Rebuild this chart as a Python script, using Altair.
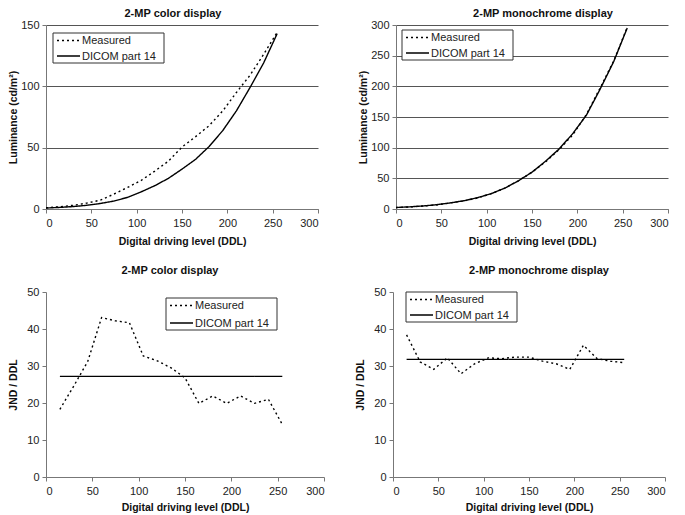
import altair as alt
import pandas as pd

# ---- data ----
ddl = [0, 15, 30, 45, 60, 75, 90, 105, 120, 135, 150, 165, 180, 195, 210, 225, 240, 255]
color_measured = [1.0, 1.8, 3.0, 4.8, 7.2, 12.2, 17.6, 23.3, 30.9, 39.0, 50.5, 59.0, 68.0, 80.0, 95.0, 109.0, 126.0, 144.0]
color_dicom = [0.8, 1.3, 2.0, 3.0, 4.5, 6.5, 9.5, 14.0, 19.0, 25.0, 32.5, 40.5, 51.0, 64.0, 80.0, 99.0, 119.0, 143.0]
mono_measured = [2.3, 3.3, 4.8, 6.8, 9.8, 13.2, 18.0, 25.0, 34.0, 46.0, 60.0, 77.0, 97.0, 121.0, 154.0, 197.0, 241.0, 296.0]
mono_dicom = [2.5, 3.5, 5.0, 7.0, 10.0, 13.5, 18.5, 25.0, 34.0, 46.0, 60.0, 78.0, 98.0, 123.0, 153.0, 195.0, 240.0, 295.0]

ddl_jnd = [15, 30, 45, 60, 75, 90, 105, 120, 135, 150, 165, 180, 195, 210, 225, 240, 255]
color_jnd_measured = [18.3, 24.6, 31.2, 43.1, 42.2, 41.7, 32.7, 31.4, 29.5, 26.8, 19.9, 21.9, 19.9, 21.9, 19.9, 21.0, 14.2]
color_jnd_dicom = [27.2] * len(ddl_jnd)
mono_jnd_measured = [38.4, 31.1, 29.1, 32.2, 27.9, 30.6, 32.2, 32.0, 32.4, 32.4, 31.3, 30.6, 29.1, 35.6, 32.0, 31.3, 30.9]
mono_jnd_dicom = [31.8] * len(ddl_jnd)

series_names = ["Measured", "DICOM part 14"]
series_dash = [[2, 3], [1, 0]]
x_ticks = [0, 50, 100, 150, 200, 250, 300]

FONT = "Liberation Sans"


def legend_layers(lx, ly, box_w=111, box_h=30):
    one = pd.DataFrame({"k": [0]})
    layers = [
        alt.Chart(one).mark_rect(fill="white", stroke="#333", strokeWidth=1).encode(
            x=alt.value(lx), x2=alt.value(lx + box_w),
            y=alt.value(ly), y2=alt.value(ly + box_h)),
    ]
    rows = [ly + 7.5, ly + box_h - 7]
    for name, dash, ry in zip(series_names, series_dash, rows):
        layers.append(
            alt.Chart(one).mark_rule(color="black", strokeWidth=1.4, strokeDash=dash).encode(
                x=alt.value(lx + 4), x2=alt.value(lx + 27), y=alt.value(ry)))
        layers.append(
            alt.Chart(one).mark_text(align="left", baseline="middle", font=FONT,
                                     fontSize=11, color="#222").encode(
                x=alt.value(lx + 29), y=alt.value(ry + 0.5), text=alt.value(name)))
    return layers


def panel(title, xs, meas, xs2, dicom, ymax, ystep, ytitle, grid, lx, ly,
          width, height, title_offset, title_dx, x_title_pad, box_h=30):
    df = pd.DataFrame({
        "ddl": list(xs) + list(xs2),
        "value": list(meas) + list(dicom),
        "series": [series_names[0]] * len(xs) + [series_names[1]] * len(xs2),
    })
    yvals = list(range(0, ymax + 1, ystep))
    lines = alt.Chart(df).mark_line(color="black", strokeWidth=1.4).encode(
        x=alt.X("ddl:Q",
                scale=alt.Scale(domain=[0, 300], nice=False),
                axis=alt.Axis(values=x_ticks, title="Digital driving level (DDL)",
                              grid=False, domainColor="#777", tickColor="#777",
                              tickSize=4, labelPadding=4, titlePadding=x_title_pad,
                              labelFont=FONT, labelFontSize=11, labelColor="#222",
                              titleFont=FONT, titleFontSize=10.5, titleFontWeight="bold",
                              titleColor="#111")),
        y=alt.Y("value:Q",
                scale=alt.Scale(domain=[0, ymax], nice=False),
                axis=alt.Axis(values=yvals, title=ytitle, grid=grid,
                              gridColor="#555", gridOpacity=1, gridWidth=1,
                              domainColor="#777", tickColor="#777", tickSize=4,
                              labelPadding=3, titlePadding=3,
                              minExtent=25, maxExtent=25,
                              labelFont=FONT, labelFontSize=11, labelColor="#222",
                              titleFont=FONT, titleFontSize=10.5, titleFontWeight="bold",
                              titleColor="#111")),
        strokeDash=alt.StrokeDash(
            "series:N",
            scale=alt.Scale(domain=series_names, range=series_dash),
            legend=None),
    )
    return alt.layer(lines, *legend_layers(lx, ly, box_h=box_h)).properties(
        width=width, height=height,
        title=alt.TitleParams(title, font=FONT, fontSize=11, fontWeight="bold",
                              color="#111", anchor="middle", frame="group",
                              offset=title_offset, dx=title_dx),
    )


tl = panel("2-MP color display", ddl, color_measured, ddl, color_dicom,
           150, 50, "Luminance (cd/m²)", True, 7, 8, 272, 184, 0, -9, 8)
tr = panel("2-MP monochrome display", ddl, mono_measured, ddl, mono_dicom,
           300, 50, "Luminance (cd/m²)", True, 6, 5, 272, 184, 0, 11, 8)
bl = panel("2-MP color display", ddl_jnd, color_jnd_measured, ddl_jnd, color_jnd_dicom,
           50, 10, "JND / DDL", False, 120, 6, 278, 185, 10, -15, 6, box_h=32)
br = panel("2-MP monochrome display", ddl_jnd, mono_jnd_measured, ddl_jnd, mono_jnd_dicom,
           50, 10, "JND / DDL", False, 13, 0, 272, 185, 10, 10, 6)

chart = alt.vconcat(
    alt.hconcat(tl, tr, spacing=39),
    alt.hconcat(bl, br, spacing=30),
    spacing=18,
).configure_view(stroke=None).properties(
    padding={"left": 0, "top": 0, "right": 0, "bottom": 0}
)

chart.save("out.html", embed_options={"renderer": "svg", "actions": False})
